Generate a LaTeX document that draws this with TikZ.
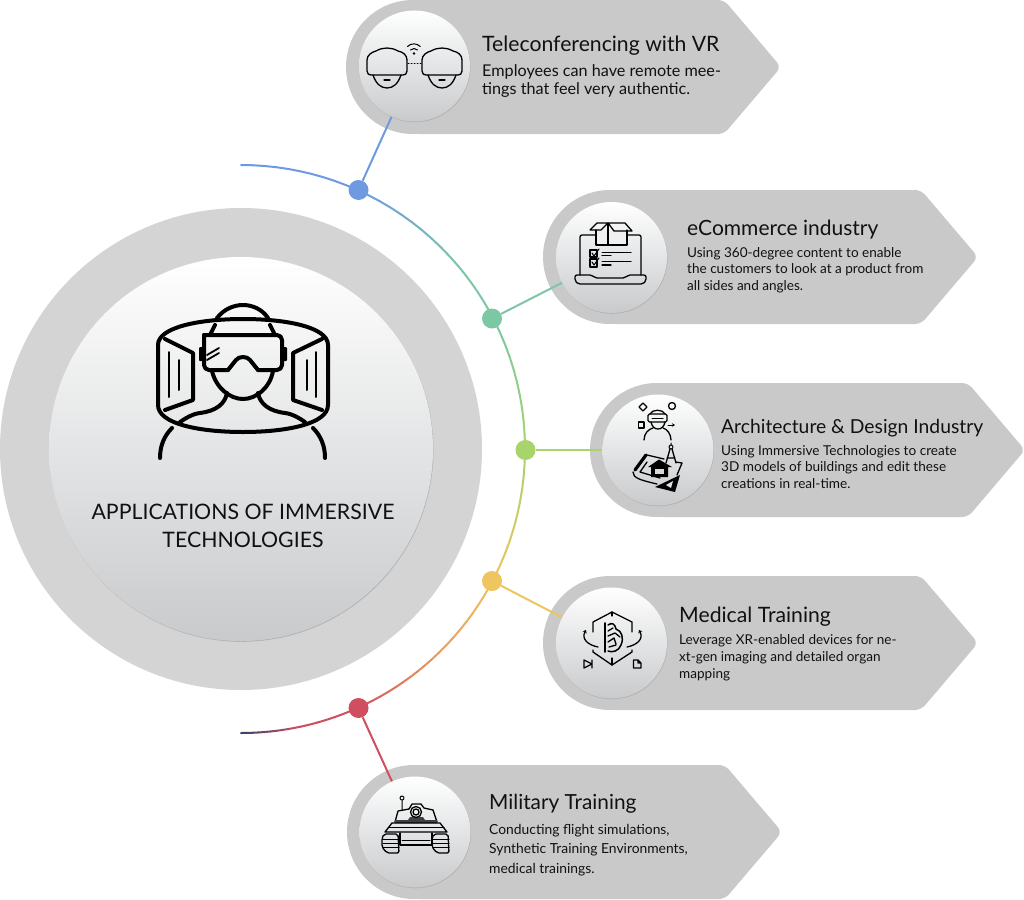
\documentclass[tikz,border=0pt]{standalone}
\usepackage{fontspec}
\setmainfont{Lato}
\usetikzlibrary{arrows.meta,shadows}
\definecolor{pillgray}{HTML}{C9C9C9}
\definecolor{ringgray}{HTML}{D4D4D4}
\definecolor{inkc}{HTML}{111111}
\definecolor{discbot}{HTML}{C8CACC}
\definecolor{discmid}{HTML}{F3F3F3}
\definecolor{ca}{HTML}{6F9AE0}
\definecolor{cb}{HTML}{7CC8A5}
\definecolor{cc}{HTML}{A9D46B}
\definecolor{cd}{HTML}{EEC55F}
\definecolor{ce}{HTML}{E8935F}
\definecolor{cf}{HTML}{CF4F60}
\definecolor{cg}{HTML}{2F3F70}
\tikzset{
  x=1pt,y=-1pt,
  disc/.style={circle,inner sep=0pt,minimum size=111pt,top color=white,middle color=discmid,bottom color=discbot,
    general shadow={fill=black!30,shadow xshift=0.5pt,shadow yshift=-0.8pt}},
  bigdisc/.style={disc,minimum size=384pt},
  dotn/.style={circle,inner sep=0pt,minimum size=20pt},
  link/.style={line width=2pt},
  arcseg/.style={line width=2pt,line cap=round},
  icon/.style={draw=black,line width=1.3pt,line join=round,line cap=round,fill=none},
  iconthin/.style={icon,line width=1pt},
  iconbig/.style={icon,line width=4pt},
  head/.style={anchor=base west,inner sep=0pt,text=inkc},
  body/.style={anchor=base west,inner sep=0pt,text=inkc,align=left},
}
\newcommand{\pillat}[2]{%
  \fill[pillgray,shift={(#1,#2)}] (67,67) circle (67pt);
  \fill[pillgray,shift={(#1,#2)},rounded corners=6pt] (67,0) -- (378,0) -- (435,67) -- (378,134) -- (67,134) -- cycle;
}
\begin{document}
\begin{tikzpicture}
\useasboundingbox (0,0) rectangle (1024,899);
\fill[white] (0,0) rectangle (1024,899);
% central ring and disc
\fill[ringgray] (241,449) circle (241pt);
% rainbow arc
\foreach \aa/\ab/\cola/\colb in {90/66/ca/ca,66/40/ca/cb,40/27/cb/cb,27/0/cb/cc,0/-27/cc/cd,-27/-48/cd/ce,-48/-66/ce/cf,-66/-78/cf/cf,-78/-90/cf/cg}{
  \foreach \st in {0,10,...,90}{
    \pgfmathsetmacro{\ga}{\aa+(\ab-\aa)*\st/100}
    \pgfmathsetmacro{\gb}{\aa+(\ab-\aa)*(\st+10)/100}
    \draw[arcseg,color={\colb!\st!\cola}] ({241+284*cos(\ga)},{449-284*sin(\ga)}) -- ({241+284*cos(\gb)},{449-284*sin(\gb)});
  }
}
\node[bigdisc] (main) at (241,449) {};
% pills
\pillat{346}{0}
\pillat{543}{190}
\pillat{590}{383}
\pillat{543}{576}
\pillat{347}{765}
% discs
\node[disc] (c1) at (414.5,66) {};
\node[disc] (c2) at (611.5,257.5) {};
\node[disc] (c3) at (658,450) {};
\node[disc] (c4) at (611.5,643) {};
\node[disc] (c5) at (415,832) {};
% dots
\node[dotn,fill=ca] (d1) at (358.5,190) {};
\node[dotn,fill=cb] (d2) at (492,318.5) {};
\node[dotn,fill=cc] (d3) at (525.5,450) {};
\node[dotn,fill=cd] (d4) at (492,581) {};
\node[dotn,fill=cf] (d5) at (358.5,708) {};
% connectors
\draw[link,ca] (d1) -- (c1);
\draw[link,cb] (d2) -- (c2);
\draw[link,cc] (d3) -- (c3);
\draw[link,cd] (d4) -- (c4);
\draw[link,cf] (d5) -- (c5);
% central icon
\draw[iconbig] (217,318) .. controls (224,309) and (234,305) .. (243,305) .. controls (252,305) and (262,309) .. (268,318);
\draw[iconbig] (158,345) .. controls (158,327) and (200,319) .. (243,319) .. controls (286,319) and (328,327) .. (328,345)
  -- (328,405) .. controls (328,424) and (286,432) .. (243,432) .. controls (200,432) and (158,424) .. (158,405) -- cycle;
\draw[iconbig] (165,339) -- (193,353) -- (193,400) -- (165,410);
\draw[iconbig] (322,339) -- (293,353) -- (293,400) -- (322,410);
\draw[icon,line width=2pt] (169,352) -- (169,397) (179,360) -- (179,390) (316,352) -- (316,397) (307,360) -- (307,390);
\draw[iconbig,rounded corners=5pt] (204,335) -- (282,335) -- (282,370) -- (258,370);
\draw[iconbig] (258,370) -- (250,360) .. controls (247,356) and (239,356) .. (236,360) -- (228,370);
\draw[iconbig,rounded corners=5pt] (228,370) -- (204,370) -- (204,335);
\fill[black,rounded corners=1pt] (199,347) rectangle (204,361) (282,347) rectangle (287,361);
\draw[iconbig] (215,325) -- (210,335) (270,325) -- (275,335);
\draw[icon,line width=1.8pt] (207,355) -- (219,348) (207,360) -- (219,353);
\draw[iconbig] (212,371) .. controls (216,388) and (230,399) .. (243,399) .. controls (256,399) and (270,388) .. (273,371);
\draw[iconbig] (227,393) .. controls (225,404) and (216,411) .. (200,413) .. controls (192,414) and (186,418) .. (180,422);
\draw[iconbig] (258,393) .. controls (260,404) and (269,411) .. (285,413) .. controls (293,414) and (299,418) .. (305,422);
\draw[iconbig] (172,428) .. controls (164,436) and (160,446) .. (160,458);
\draw[iconbig] (313,428) .. controls (321,436) and (325,446) .. (325,458);
% icon 1: two headsets
\foreach \hx in {0,55}{
  \begin{scope}[shift={(\hx,0)}]
  \draw[icon] (367,60) .. controls (367,55) and (372,52) .. (376,51) .. controls (383,47) and (391,47) .. (398,51) .. controls (403,52) and (407,55) .. (407,60)
    -- (407,71) .. controls (407,74) and (405,75) .. (403,75) -- (371,75) .. controls (369,75) and (367,74) .. (367,71) -- cycle;
  \draw[icon] (373,75) .. controls (376,84) and (381,88) .. (387,88) .. controls (393,88) and (398,84) .. (401,75);
  \draw[icon] (384,80) -- (390,80);
  \end{scope}
}
\draw[iconthin,dotted] (408,63) -- (422,63);
\fill[black] (414,53.5) circle (1.3pt);
\draw[iconthin] (410.5,50) arc (135:45:5pt) (407.5,46.5) arc (135:45:9pt);
% icon 2: laptop with parcel
\draw[icon,rounded corners=2pt] (580,275) -- (580,235) -- (641,235) -- (641,275);
\draw[icon,rounded corners=2pt] (575,275) -- (592,275) -- (595,278) -- (625,278) -- (628,275) -- (646,275) -- (646,281) -- (643,284) -- (578,284) -- (575,281) -- cycle;
\fill[white!94!black] (595,230) rectangle (627,245);
\draw[icon] (596,230) -- (596,245) -- (627,245) -- (627,230) (608,223) -- (608,245);
\draw[icon] (590,230) -- (597,223) -- (608,223) -- (614,231) -- (632,231) -- (625,223) -- (608,223) (590,230) -- (601,230) -- (608,223);
\draw[icon] (590,250) rectangle (597,257) (590,259) rectangle (597,267);
\draw[iconthin] (592,253) -- (594,256) -- (599,249) (592,262) -- (594,265) -- (599,258);
\draw[iconthin] (602,252) -- (631,252) (602,261) -- (631,261);
\draw[icon] (602,255.5) -- (611,255.5) (602,265) -- (611,265);
% icon 3: designer and blueprint
\draw[icon] (643,403) -- (647,407) -- (643,411) -- (639,407) -- cycle;
\draw[icon] (672,406) circle (3.5pt);
\draw[icon] (638.5,422) rectangle (644,428);
\draw[icon] (650,414) .. controls (652,409) and (663,409) .. (665,414);
\draw[icon,rounded corners=1.5pt] (648,414) rectangle (667,422);
\draw[iconthin] (652,418) -- (663,418);
\draw[icon] (651,422) .. controls (652,427) and (655,429) .. (658,429) .. controls (661,429) and (664,427) .. (665,422);
\draw[icon] (644,440) .. controls (644,433) and (649,429) .. (653,428) (663,428) .. controls (667,429) and (671,434) .. (671,440);
\draw[iconthin,-{Stealth[length=3pt,width=3.5pt]}] (668,425) -- (675,425);
\draw[iconthin] (671,447) circle (2pt) (671,443) -- (671,445);
\draw[icon] (670,449) -- (666,463) (672,449) -- (676,463) (667,458) -- (675,458);
\draw[icon] (647,455) -- (664,459) (676,462) -- (682,463) -- (677,475);
\draw[line width=3.2pt,line cap=round,black] (635,470) -- (646,455);
\draw[icon] (633,472) .. controls (633,478) and (640,480) .. (657,484);
\draw[icon] (640,472) -- (647,462) (640,472) -- (660,478);
\fill[black] (648,467) -- (659,459.5) -- (672,467) -- (668,467) -- (668,477) -- (651,477) -- (651,467) -- cycle;
\fill[white!85!black] (655,469) rectangle (664,474);
\fill[black] (655,487) -- (680,475) -- (675,492) -- cycle;
\fill[white!88!black] (666,485) -- (673,481) -- (671,488) -- cycle;
% icon 4: hexagon and heart
\draw[icon] (593,632) -- (593,622) -- (612,612) -- (632,622) -- (632,632);
\draw[icon] (593,650) -- (593,652) -- (612,665) -- (632,652) -- (632,650);
\draw[icon] (612,612) -- (612,616) (612,658) -- (612,665);
\draw[icon,line width=1.6pt] (605,623) -- (605,652);
\draw[icon,line width=1.5pt] (608,625) .. controls (612,622) and (615,624) .. (616,629) .. controls (622,631) and (624,638) .. (621,645) .. controls (619,651) and (612,653) .. (608,651);
\draw[icon] (608,631) -- (613,628) (608,636) -- (615,633) -- (620,637) (608,642) -- (614,638) -- (616,644) (609,647) -- (616,645);
\draw[icon,-{Stealth[length=3pt,width=4.5pt]}] (598,647) .. controls (588,645) and (581,639) .. (586,630);
\draw[icon,-{Stealth[length=3pt,width=4.5pt]}] (627,647) .. controls (637,645) and (644,639) .. (639,630);
\draw[icon] (584,660) -- (584,668) -- (592,664) -- cycle (592,660) -- (592,668);
\draw[icon] (633.5,660) -- (638,660) -- (641,663) -- (641,668) -- (633.5,668) -- cycle (638,660) -- (638,663) -- (641,663);
% icon 5: tank
\draw[iconthin] (402,798) circle (2pt) (402,800) -- (402,810);
\draw[icon] (395,822) -- (398,811) -- (409,809) -- (412,804) -- (421,804) -- (424,808) -- (433,810) -- (437,822);
\fill[black!75] (395,820) -- (408,820) -- (410,817) -- (423,817) -- (425,820) -- (437,820) -- (437,823) -- (395,823) -- cycle;
\draw[icon,fill=discmid] (416,812) circle (5.5pt);
\draw[icon] (416,812) circle (3pt);
\draw[icon] (392,823) -- (440,823) -- (447,832) -- (385,832) -- cycle;
\draw[iconthin] (389,827.5) -- (444,827.5);
\draw[icon] (400,833) -- (400,845) -- (432,845) -- (432,833);
\draw[iconthin] (402,840) -- (430,840);
\foreach \tx in {382,432}{
  \begin{scope}[shift={(\tx,0)}]
  \draw[icon,rounded corners=2pt] (2,834) -- (16,834) -- (17,853) -- (5,853) -- (0,847) -- (0,838) -- cycle;
  \draw[iconthin] (1,839) -- (17,839) (1,843) -- (17,843) (1,847) -- (17,847);
  \end{scope}
}
% texts
\node[anchor=base,inner sep=0pt,text=inkc,align=center,font=\fontsize{21.3}{28}\selectfont] (maintext) at (243,547.5) {APPLICATIONS OF IMMERSIVE\\TECHNOLOGIES};
\node[head,font=\fontsize{21.2}{26}\selectfont] (t1) at (482,51.5) {Teleconferencing with VR};
\node[body,font=\fontsize{16.2}{18}\selectfont] (b1) at (482,94.5) {Employees can have remote mee-\\tings that feel very authentic.};
\node[head,font=\fontsize{21}{26}\selectfont] (t2) at (687,235) {eCommerce industry};
\node[body,font=\fontsize{13.55}{16.5}\selectfont] (b2) at (687,290) {Using 360-degree content to enable\\the customers to look at a product from\\all sides and angles.};
\node[head,font=\fontsize{19.3}{26}\selectfont] (t3) at (721,433) {Architecture \& Design Industry};
\node[body,font=\fontsize{13.6}{16.2}\selectfont] (b3) at (721,488) {Using Immersive Technologies to create\\3D models of buildings and edit these\\creations in real-time.};
\node[head,font=\fontsize{21.2}{26}\selectfont] (t4) at (679,622) {Medical Training};
\node[body,font=\fontsize{13.55}{17}\selectfont] (b4) at (679,678) {Leverage XR-enabled devices for ne-\\xt-gen imaging and detailed organ\\mapping};
\node[head,font=\fontsize{20.8}{26}\selectfont] (t5) at (489,809) {Military Training};
\node[body,font=\fontsize{13.85}{19.5}\selectfont] (b5) at (489,873) {Conducting flight simulations,\\Synthetic Training Environments,\\medical trainings.};
\end{tikzpicture}
\end{document}
